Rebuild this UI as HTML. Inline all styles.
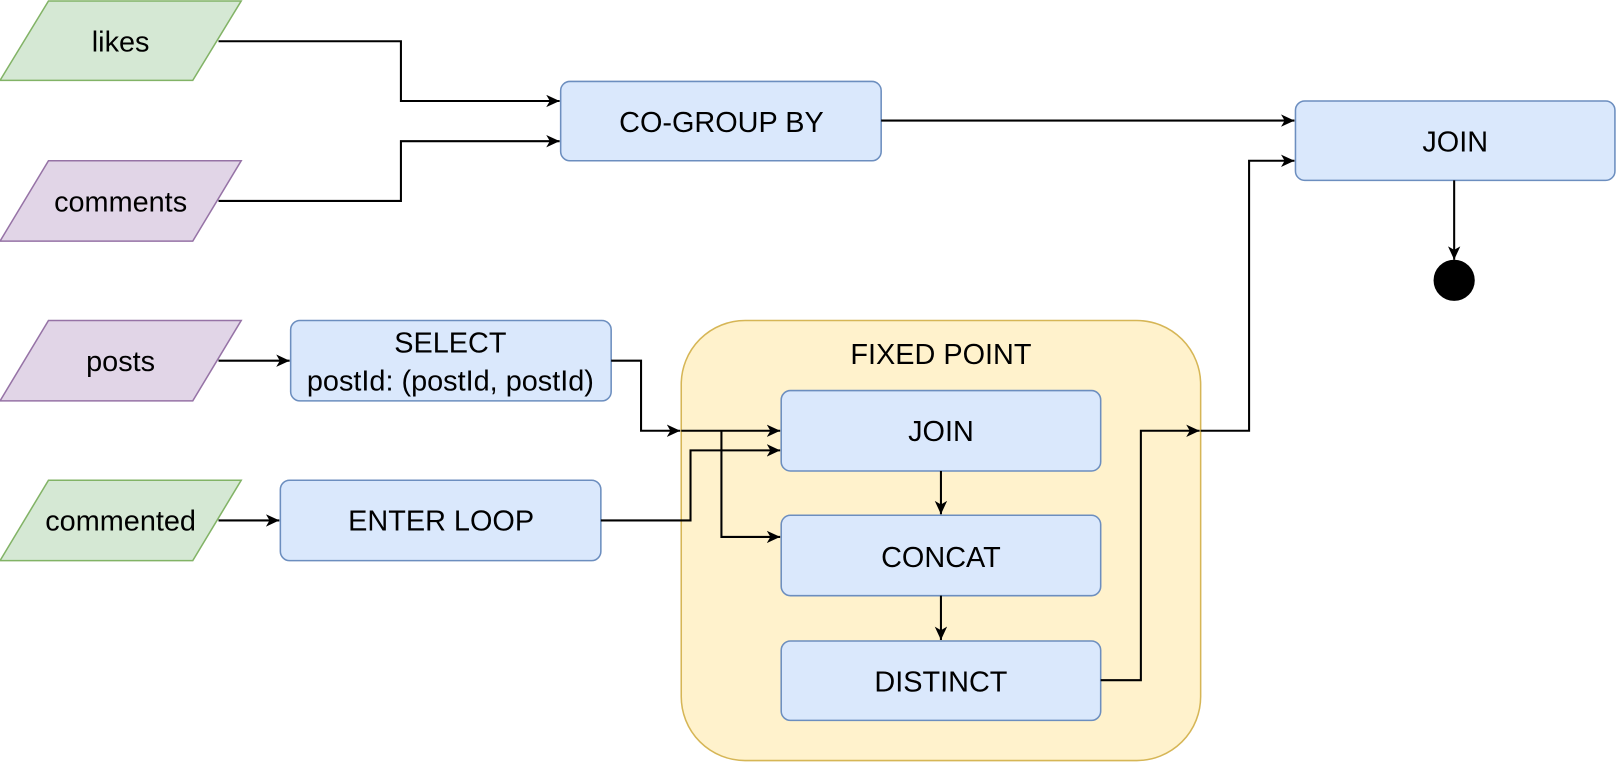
<!DOCTYPE html>
<html><head><meta charset="utf-8"><style>html,body{margin:0;padding:0;background:#fff;}svg{display:block}text{font-family:"Liberation Sans",Arial,sans-serif;font-size:28px;}</style></head>
<body>
<svg width="1616" height="762" viewBox="0 0 1568 739.4" xmlns="http://www.w3.org/2000/svg" text-anchor="middle">
<defs>
<marker id="a" markerWidth="16" markerHeight="16" refX="13" refY="6" orient="auto" markerUnits="userSpaceOnUse">
<path d="M0,0 L13,6 L0,12 L3.5,6 Z" fill="#000"/>
</marker>
</defs>
<polygon points="47,1 234,1 187,78 0,78" fill="#d5e8d4" stroke="#82b366" stroke-width="1.5"/>
<polygon points="47,156 234,156 187,234 0,234" fill="#e1d5e7" stroke="#9673a6" stroke-width="1.5"/>
<polygon points="47,311 234,311 187,389 0,389" fill="#e1d5e7" stroke="#9673a6" stroke-width="1.5"/>
<polygon points="47,466 234,466 187,544 0,544" fill="#d5e8d4" stroke="#82b366" stroke-width="1.5"/>
<text x="117" y="50">likes</text>
<text x="117" y="205">comments</text>
<text x="117" y="360">posts</text>
<text x="117" y="515">commented</text>
<rect x="661" y="311" width="504" height="427" rx="62" fill="#fff2cc" stroke="#d6b656" stroke-width="1.5"/>
<text x="913" y="353">FIXED POINT</text>
<g fill="#dae8fc" stroke="#6c8ebf" stroke-width="1.5">
<rect x="544" y="79" width="311" height="77" rx="9"/>
<rect x="1257" y="98" width="310" height="77" rx="9"/>
<rect x="282" y="311" width="311" height="78" rx="9"/>
<rect x="272" y="466" width="311" height="78" rx="9"/>
<rect x="758" y="379" width="310" height="78" rx="9"/>
<rect x="758" y="500" width="310" height="78" rx="9"/>
<rect x="758" y="622" width="310" height="77" rx="9"/>
</g>
<text x="700" y="128">CO-GROUP BY</text>
<text x="1412" y="147">JOIN</text>
<text x="437" y="342">SELECT</text>
<text x="437" y="379">postId: (postId, postId)</text>
<text x="428" y="515">ENTER LOOP</text>
<text x="913" y="428">JOIN</text>
<text x="913" y="550">CONCAT</text>
<text x="913" y="671">DISTINCT</text>
<circle cx="1411" cy="272" r="20" fill="#000"/>
<g fill="none" stroke="#000" stroke-width="2">
<polyline points="212,40 389,40 389,98 543,98" marker-end="url(#a)"/>
<polyline points="212,195 389,195 389,137 543,137" marker-end="url(#a)"/>
<polyline points="855,117 1256,117" marker-end="url(#a)"/>
<polyline points="1068,660 1107,660 1107,418 1164,418" marker-end="url(#a)"/>
<polyline points="1165,418 1212,418 1212,156 1256,156" marker-end="url(#a)"/>
<polyline points="1411,175 1411,252" marker-end="url(#a)"/>
<polyline points="212,350 281,350" marker-end="url(#a)"/>
<polyline points="212,505 271,505" marker-end="url(#a)"/>
<polyline points="593,350 622,350 622,418 660,418" marker-end="url(#a)"/>
<polyline points="661,418 757,418" marker-end="url(#a)"/>
<polyline points="700,418 700,521 757,521" marker-end="url(#a)"/>
<polyline points="583,505 670,505 670,437 757,437" marker-end="url(#a)"/>
<polyline points="913,457 913,499" marker-end="url(#a)"/>
<polyline points="913,578 913,621" marker-end="url(#a)"/>
</g>
</svg>
</body></html>
